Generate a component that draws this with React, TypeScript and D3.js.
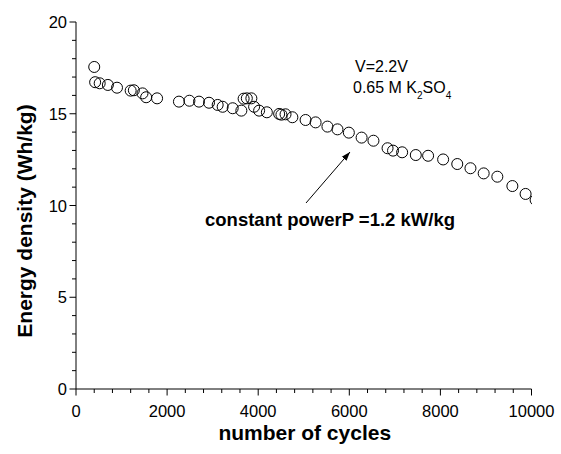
import React from 'react'
import {scaleLinear, range} from 'd3'

const width = 561
const height = 454

// cycle number / energy density (Wh/kg)
const cycles = [400, 420, 520, 700, 900, 1200, 1270, 1460, 1540, 1780, 2260, 2490, 2700, 2920, 3110, 3220,
  3440, 3630, 3680, 3750, 3850, 3910, 4020, 4190, 4460, 4510, 4600, 4750, 5040, 5260, 5520, 5740, 5990,
  6270, 6530, 6840, 6960, 7160, 7460, 7730, 8060, 8370, 8660, 8950, 9250, 9580, 9870, 10090]
const energy = [17.55, 16.72, 16.66, 16.57, 16.42, 16.26, 16.28, 16.11, 15.9, 15.84, 15.66, 15.71, 15.66, 15.6, 15.48, 15.38,
  15.3, 15.17, 15.82, 15.84, 15.84, 15.38, 15.17, 15.08, 14.99, 14.95, 14.97, 14.81, 14.66, 14.53, 14.3, 14.15, 13.97,
  13.7, 13.53, 13.12, 12.99, 12.9, 12.75, 12.71, 12.51, 12.26, 12.03, 11.75, 11.57, 11.06, 10.63, 10.3]

const xTicks = [0, 2000, 4000, 6000, 8000, 10000]
const yTicks = [0, 5, 10, 15, 20]

const font = '"Liberation Sans", Arial, sans-serif'

export default function App() {
  const x = scaleLinear().domain([0, 10000]).range([76, 531.5])
  const y = scaleLinear().domain([0, 20]).range([389, 22])
  const xMinor = range(0, 10001, 400)
  const yMinor = range(0, 21, 1)

  return (
    <svg width={width} height={height} style={{position: 'absolute', left: 0, top: 0, background: '#fff'}}
      fontFamily={font}>
      <defs>
        <clipPath id="plot">
          <rect x={x(0)} y={y(20) - 8} width={x(10000) - x(0) + 0.5} height={y(0) - y(20) + 8} />
        </clipPath>
        <marker id="head" viewBox="0 0 10 10" refX="10" refY="5" markerWidth="9" markerHeight="9"
          orient="auto" markerUnits="userSpaceOnUse">
          <path d="M0,1.5 L10,5 L0,8.5 Z" fill="#000" />
        </marker>
      </defs>

      {/* axes */}
      <line x1={x(0)} x2={x(10000)} y1={y(0)} y2={y(0)} stroke="#000" />
      <line x1={x(0)} x2={x(0)} y1={y(0)} y2={y(20)} stroke="#000" />
      {xMinor.map(t => (
        <line key={'xm' + t} x1={x(t)} x2={x(t)} y1={y(0)} y2={y(0) + (t % 2000 === 0 ? 6.5 : 4)} stroke="#000" />
      ))}
      {yMinor.map(t => (
        <line key={'ym' + t} x1={x(0)} x2={x(0) - (t % 5 === 0 ? 6.5 : 4)} y1={y(t)} y2={y(t)} stroke="#000" />
      ))}
      {xTicks.map(t => (
        <text key={'xt' + t} x={x(t)} y={417} textAnchor="middle" fontSize={16.5}>{t}</text>
      ))}
      {yTicks.map(t => (
        <text key={'yt' + t} x={67} y={y(t) + 6} textAnchor="end" fontSize={16.5}>{t}</text>
      ))}

      <text x={(x(0) + x(10000)) / 2 + 1} y={440} textAnchor="middle" fontSize={21} fontWeight="bold">
        number of cycles
      </text>
      <text transform="translate(32,221) rotate(-90)" textAnchor="middle" fontSize={21} fontWeight="bold">
        Energy density (Wh/kg)
      </text>

      {/* data */}
      <g clipPath="url(#plot)">
        {cycles.map((c, i) => (
          <circle key={i} cx={x(c)} cy={y(energy[i])} r={5.5} fill="none" stroke="#000" strokeWidth={1} />
        ))}
      </g>

      {/* annotations */}
      <text x={355} y={72} fontSize={16}>V=2.2V</text>
      <text x={353} y={93} fontSize={16}>
        0.65 M K<tspan fontSize={10} dy={6}>2</tspan><tspan dy={-6}>SO</tspan><tspan fontSize={10} dy={6}>4</tspan>
      </text>
      <line x1={306} y1={203} x2={350} y2={152} stroke="#000" strokeWidth={1} markerEnd="url(#head)" />
      <text x={205} y={226} fontSize={18.5} fontWeight="bold">constant powerP =1.2 kW/kg</text>
    </svg>
  )
}
